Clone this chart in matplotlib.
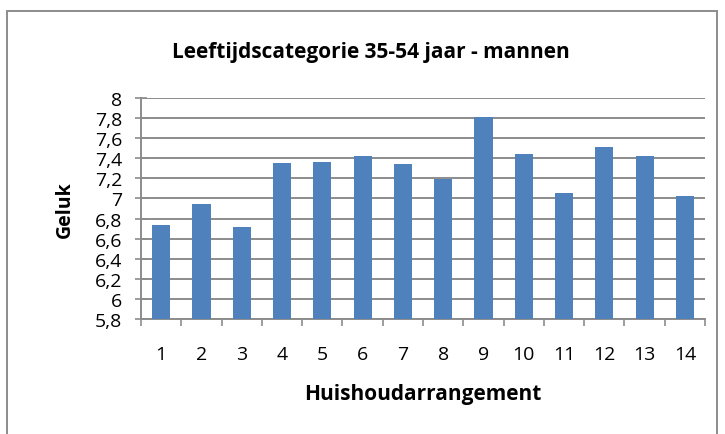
import matplotlib.pyplot as plt
from matplotlib.patches import Rectangle
import numpy as np

plt.rcParams['font.family'] = ['Open Sans', 'DejaVu Sans']

categories = ['1', '2', '3', '4', '5', '6', '7', '8', '9', '10', '11', '12', '13', '14']
geluk = [6.74, 6.94, 6.72, 7.35, 7.36, 7.42, 7.34, 7.19, 7.81, 7.44, 7.05, 7.51, 7.42, 7.02]
yticks = [5.8, 6.0, 6.2, 6.4, 6.6, 6.8, 7.0, 7.2, 7.4, 7.6, 7.8, 8.0]
ytick_labels = ['5,8', '6', '6,2', '6,4', '6,6', '6,8', '7', '7,2', '7,4', '7,6', '7,8', '8']

grid_color = '#8c8c8c'

fig = plt.figure(figsize=(7.25, 4.35), dpi=100)
ax = fig.add_axes([0.1945, 0.2644, 0.778, 0.508])

x = np.arange(len(categories))
ax.bar(x, geluk, width=0.45, color='#4f81bd', zorder=3)

ax.set_ylim(5.8, 8.0)
ax.set_xlim(-0.5, len(categories) - 0.5)
ax.set_yticks(yticks)
ax.set_yticklabels(ytick_labels)
ax.yaxis.grid(True, color=grid_color, linewidth=1.4, zorder=0)

# tick marks between categories, labels centred under the bars
ax.set_xticks(np.arange(-0.5, len(categories), 1.0))
ax.set_xticklabels([])
ax.set_xticks(x, minor=True)
ax.set_xticklabels(categories, minor=True)
ax.tick_params(axis='x', which='major', length=5, width=1.2, color=grid_color)
ax.tick_params(axis='x', which='minor', length=0, pad=19, labelsize=14)
ax.tick_params(axis='y', which='major', direction='inout', length=9, width=1.2,
               color=grid_color, labelsize=14, pad=9)

for s in ['top', 'right']:
    ax.spines[s].set_visible(False)
for s in ['left', 'bottom']:
    ax.spines[s].set_color(grid_color)
    ax.spines[s].set_linewidth(1.4)

# title sits over the whole chart, not just the plot area
fig.text(0.512, 0.88, 'Leeftijdscategorie 35-54 jaar - mannen', fontsize=15,
         fontweight='bold', ha='center', va='center')
ax.set_xlabel('Huishoudarrangement', fontsize=15, fontweight='bold', labelpad=14)
ax.set_ylabel('Geluk', fontsize=14, fontweight='bold', labelpad=14)

# chart frame
fig.patches.append(Rectangle((7 / 725, -0.05), 710 / 725, 1 - 12 / 435 + 0.05,
                             transform=fig.transFigure, fill=False,
                             edgecolor='#8c8c8c', linewidth=1.4))

fig.savefig('out.png', dpi=100)
